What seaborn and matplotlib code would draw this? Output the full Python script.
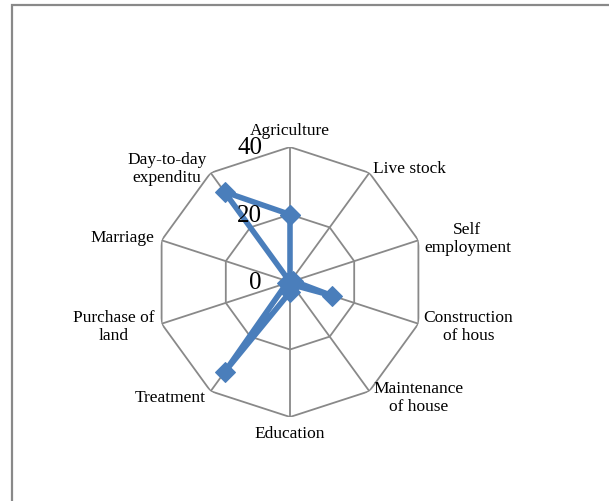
import numpy as np
import matplotlib
matplotlib.use("Agg")
import matplotlib.pyplot as plt
import matplotlib.patches as patches
import seaborn as sns

# Datos del gráfico radar
categorias = ["Agriculture", "Live stock", "Self\nemployment", "Construction\nof hous",
              "Maintenance\nof house", "Education", "Treatment", "Purchase of\nland",
              "Marriage", "Day-to-day\nexpenditu"]
valores = [20, 0, 1, 13, 1, 3, 33, 1, 0, 33]
marcas_r = [0, 20, 40]

sns.set_style("white")
plt.rcParams["font.family"] = ["Liberation Serif", "DejaVu Serif"]
plt.rcParams["text.color"] = "black"

azul = "#4A7EBB"
gris = "#898989"

fig = plt.figure(figsize=(6.09, 5.02), dpi=100)

# Marco exterior
fig.patches.append(patches.Rectangle((12 / 609, -0.1), 2, 1 - 6 / 502 + 0.1,
                                     transform=fig.transFigure, fill=False,
                                     edgecolor=gris, linewidth=1.6))

ax = fig.add_axes([155 / 609, (502 - 283 - 135) / 502, 270 / 609, 270 / 502],
                  projection="polar")
ax.set_theta_offset(np.pi / 2)
ax.set_theta_direction(-1)
ax.set_ylim(0, 40)
ax.grid(False)
ax.spines["polar"].set_visible(False)
ax.set_xticks([])
ax.set_yticks([])
ax.patch.set_alpha(0)

n = len(categorias)
angulos = np.linspace(0, 2 * np.pi, n, endpoint=False)
ang_cerr = np.append(angulos, angulos[0])

# Rejilla decagonal
for r in marcas_r[1:]:
    ax.plot(ang_cerr, [r] * (n + 1), color=gris, linewidth=1.3, zorder=1)
for t in angulos:
    ax.plot([t, t], [0, marcas_r[-1]], color=gris, linewidth=1.3, zorder=1)

# Serie
sns.lineplot(x=ang_cerr, y=valores + valores[:1], ax=ax, sort=False, estimator=None,
             color=azul, linewidth=4, marker="D", markersize=10,
             markeredgecolor=azul, markerfacecolor=azul, zorder=3, clip_on=False)
ax.set_xlabel("")
ax.set_ylabel("")

# Etiquetas de categorías
desplaz = [(0, 17, "center"), (4, 5, "left"), (49, 2, "center"), (50, -2, "center"),
           (4, -6, "left"), (0, -16, "center"), (-5, -6, "right"), (-48, -2, "center"),
           (-7, 3, "right"), (-44, 5, "center")]
for t, lab, (dx, dy, ha) in zip(angulos, categorias, desplaz):
    ax.annotate(lab, xy=(t, 40), xytext=(dx, dy), textcoords="offset pixels",
                ha=ha, va="center", multialignment="center", fontsize=12.5,
                color="black", annotation_clip=False)

# Etiquetas radiales
for r in marcas_r:
    ax.annotate(str(r), xy=(0, r), xytext=(-28, 0), textcoords="offset pixels",
                ha="right", va="center", fontsize=18, color="black",
                annotation_clip=False)

fig.savefig("out.png", dpi=100)
